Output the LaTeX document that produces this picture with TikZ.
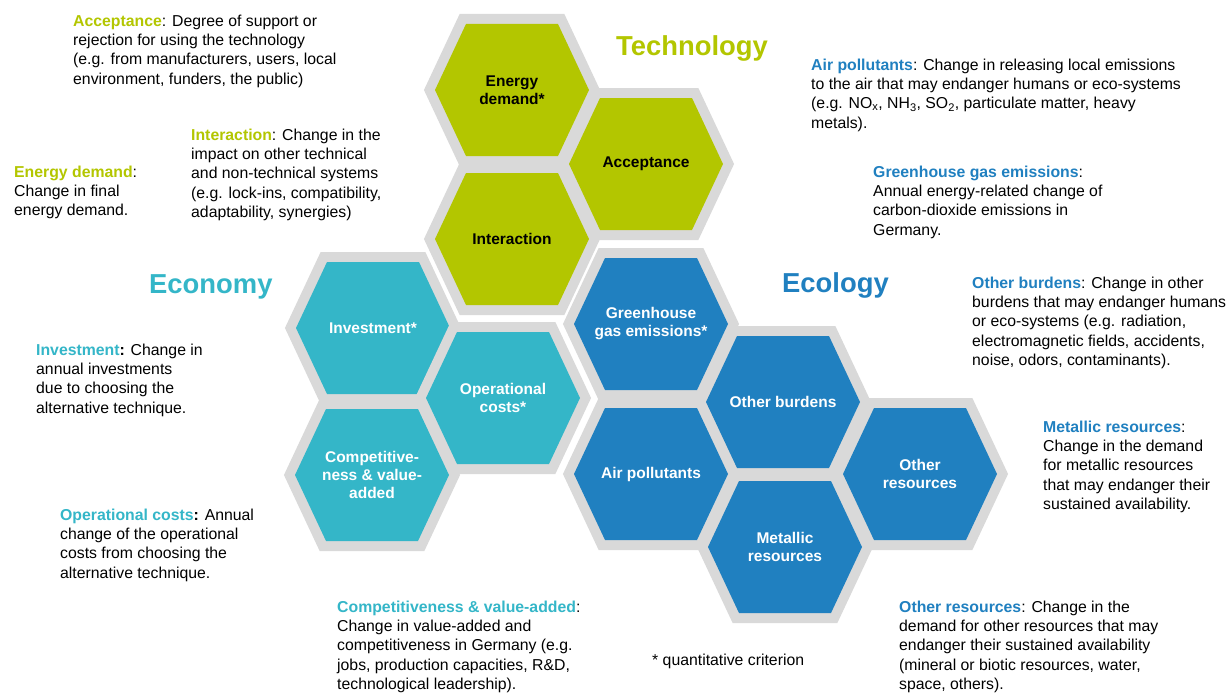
\documentclass[tikz,border=0pt]{standalone}
\usepackage{fontspec}
\setmainfont{Liberation Sans}
\definecolor{techc}{RGB}{179,198,0}
\definecolor{econc}{RGB}{52,182,200}
\definecolor{ecoc}{RGB}{32,128,192}
\definecolor{greyc}{RGB}{217,217,217}
\newcommand\kw[2]{\textcolor{#1}{\bfseries #2}}
% #1 node name, #2 centre, #3 fill colour, #4 text colour, #5 label
\newcommand\hexnode[5]{%
  \path[hexfill, fill=#3] (#2) +(77,0) -- +(46,66) -- +(-46,66) -- +(-77,0)
    -- +(-46,-66) -- +(46,-66) -- cycle;
  \node[hexlabel, text=#4] (#1) at (#2) {#5};}
\begin{document}
\begin{tikzpicture}[x=1pt,y=-1pt,
  hexfill/.style={preaction={draw=greyc, line width=20pt, line join=miter}},
  hexlabel/.style={inner sep=0pt, align=center, font=\fontsize{15.5}{18}\selectfont\bfseries},
  title/.style={anchor=base west, inner sep=0pt, font=\fontsize{27.4}{30}\selectfont\bfseries},
  desc/.style={anchor=north west, inner sep=0pt, yshift=13.5pt, align=left,
    font=\fontsize{15.8}{19.3}\selectfont}
]
\useasboundingbox[fill=white] (0,0) rectangle (1228,693);

% Technology hexagons
\hexnode{hEnergy}{512,90}{techc}{black}{Energy\\demand*}
\hexnode{hAccept}{646,164}{techc}{black}{Acceptance}
\hexnode{hInter}{512,239}{techc}{black}{Interaction}
% Economy hexagons
\hexnode{hInvest}{373,328}{econc}{white}{Investment*}
\hexnode{hOpcost}{503,398}{econc}{white}{Operational\\costs*}
\hexnode{hCompet}{372,475}{econc}{white}{Competitive-\\ness \& value-\\added}
% Ecology hexagons
\hexnode{hGhg}{651,324}{ecoc}{white}{Greenhouse\\gas emissions*}
\hexnode{hBurden}{783,402}{ecoc}{white}{Other burdens}
\hexnode{hAir}{651,474}{ecoc}{white}{Air pollutants}
\hexnode{hMetal}{785,547}{ecoc}{white}{Metallic\\resources}
\hexnode{hOther}{920,474}{ecoc}{white}{Other\\resources}

% Titles
\node[title, text=techc] (tTech) at (616,56) {Technology};
\node[title, text=econc] (tEcon) at (149,293) {Economy};
\node[title, text=ecoc] (tEco) at (782,292) {Ecology};

% Descriptions - Technology
\node[desc] (dAccept) at (73,26) {\strut\kw{techc}{Acceptance}: Degree of support or\\
  rejection for using the technology\\
  (e.g. from manufacturers, users, local\\
  environment, funders, the public)};
\node[desc] (dEnergy) at (14,177) {\strut\kw{techc}{Energy demand}:\\
  Change in final\\
  energy demand.};
\node[desc] (dInter) at (191,140) {\strut\kw{techc}{Interaction}: Change in the\\
  impact on other technical\\
  and non-technical systems\\
  (e.g. lock-ins, compatibility,\\
  adaptability, synergies)};

% Descriptions - Economy
\node[desc] (dInvest) at (36,355) {\strut\kw{econc}{Investment}\textbf{:} Change in\\
  annual investments\\
  due to choosing the\\
  alternative technique.};
\node[desc] (dOpcost) at (60,520) {\strut\kw{econc}{Operational costs}\textbf{:} Annual\\
  change of the operational\\
  costs from choosing the\\
  alternative technique.};
\node[desc] (dCompet) at (337,612) {\strut\kw{econc}{Competitiveness \& value-added}:\\
  Change in value-added and\\
  competitiveness in Germany (e.g.\\
  jobs, production capacities, R\&D,\\
  technological leadership).};

% Descriptions - Ecology
\node[desc] (dAir) at (811,70) {\strut\kw{ecoc}{Air pollutants}: Change in releasing local emissions\\
  to the air that may endanger humans or eco-systems\\
  (e.g. NO\textsubscript{x}, NH\textsubscript{3}, SO\textsubscript{2}, particulate matter, heavy\\
  metals).};
\node[desc] (dGhg) at (873,177) {\strut\kw{ecoc}{Greenhouse gas emissions}:\\
  Annual energy-related change of\\
  carbon-dioxide emissions in\\
  Germany.};
\node[desc] (dBurden) at (972,288) {\strut\kw{ecoc}{Other burdens}: Change in other\\
  burdens that may endanger humans\\
  or eco-systems (e.g. radiation,\\
  electromagnetic fields, accidents,\\
  noise, odors, contaminants).};
\node[desc] (dMetal) at (1043,432) {\strut\kw{ecoc}{Metallic resources}:\\
  Change in the demand\\
  for metallic resources\\
  that may endanger their\\
  sustained availability.};
\node[desc] (dOther) at (899,612) {\strut\kw{ecoc}{Other resources}: Change in the\\
  demand for other resources that may\\
  endanger their sustained availability\\
  (mineral or biotic resources, water,\\
  space, others).};

% Footnote
\node[desc] (note) at (652,665) {\strut* quantitative criterion};
\end{tikzpicture}
\end{document}
